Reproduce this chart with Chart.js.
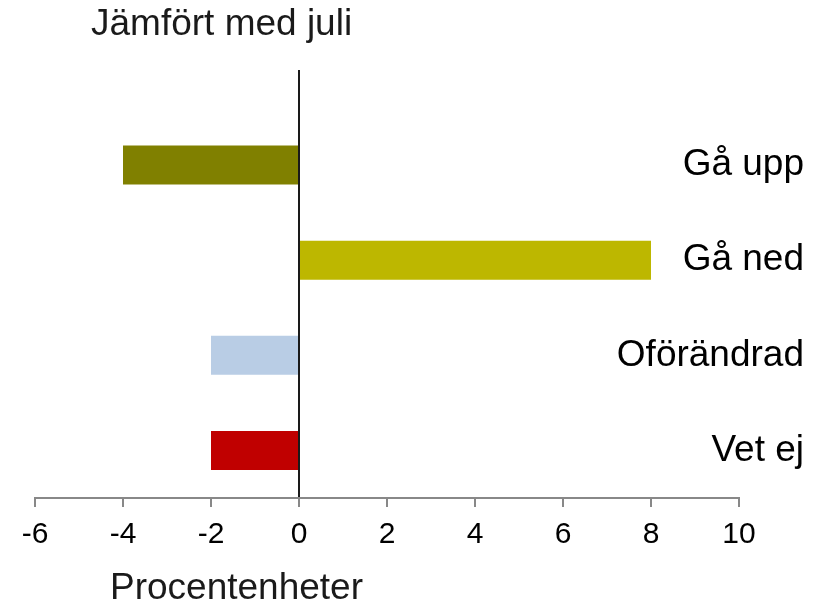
<!DOCTYPE html>
<html>
<head>
<meta charset="utf-8">
<script src="https://cdn.jsdelivr.net/npm/chart.js@4/dist/chart.umd.min.js"></script>
<style>
  html, body { margin: 0; padding: 0; background: #fff; }
  #wrap { position: relative; width: 823px; height: 603px; }
  canvas { position: absolute; left: 0; top: 0; }
  .ttl { position: absolute; font-family: "Liberation Sans", Arial, sans-serif; font-size: 37px; line-height: 37px; color: #1a1a1a; white-space: nowrap; }
</style>
</head>
<body>
<div id="wrap">
  <canvas id="c" width="823" height="603"></canvas>
  <div class="ttl" id="t1" style="left:91px; top:4px;">Jämfört med juli</div>
  <div class="ttl" id="t2" style="left:110px; top:568px;">Procentenheter</div>
</div>
<script>
// ---- data ----
const categories = ['Gå upp', 'Gå ned', 'Oförändrad', 'Vet ej'];
const values = [-4, 8, -2, -2];
const xTickMin = -6;
const xTickMax = 10;
const xTickStep = 2;

// ---- styles ----
const barColors = ['#808000', '#BDB700', '#B9CDE5', '#C00000'];
const FONT = '"Liberation Sans", Arial, sans-serif';

const n = categories.length;
const points = categories.map((c, i) => ({ x: values[i], y: n - i }));

new Chart(document.getElementById('c'), {
  type: 'bar',
  data: {
    datasets: [{
      data: points,
      backgroundColor: barColors,
      borderWidth: 0,
      barPercentage: 0.41,
      categoryPercentage: 1
    }]
  },
  options: {
    indexAxis: 'y',
    responsive: false,
    animation: false,
    events: [],
    layout: { padding: { left: 35, right: -46, top: 70, bottom: 40 } },
    plugins: { legend: { display: false }, tooltip: { enabled: false }, title: { display: false } },
    scales: {
      x: {
        type: 'linear',
        min: xTickMin,
        max: xTickMax,
        z: 1,
        ticks: { stepSize: xTickStep, color: '#000', padding: 10, font: { family: FONT, size: 30 } },
        grid: {
          drawOnChartArea: true,
          color: (ctx) => (ctx.tick && ctx.tick.value === 0 ? '#1a1a1a' : 'rgba(0,0,0,0)'),
          lineWidth: 2,
          tickColor: '#888888',
          tickLength: 9,
          tickWidth: 2
        },
        border: { display: true, color: '#888888', width: 2 },
        afterFit: (s) => { s.paddingLeft = 0; s.paddingRight = 0; }
      },
      y: {
        type: 'linear',
        position: 'right',
        offset: false,
        min: 0.5,
        max: n + 1,
        afterBuildTicks: (scale) => { scale.ticks = categories.map((c, i) => ({ value: n - i })); },
        afterFit: (s) => { s.paddingTop = 0; s.paddingBottom = 0; },
        ticks: {
          mirror: true,
          padding: 65,
          color: '#000',
          font: { family: FONT, size: 37 },
          callback: (v) => categories[n - v]
        },
        grid: { display: false, drawTicks: false },
        border: { display: false }
      }
    }
  }
});
</script>
</body>
</html>
